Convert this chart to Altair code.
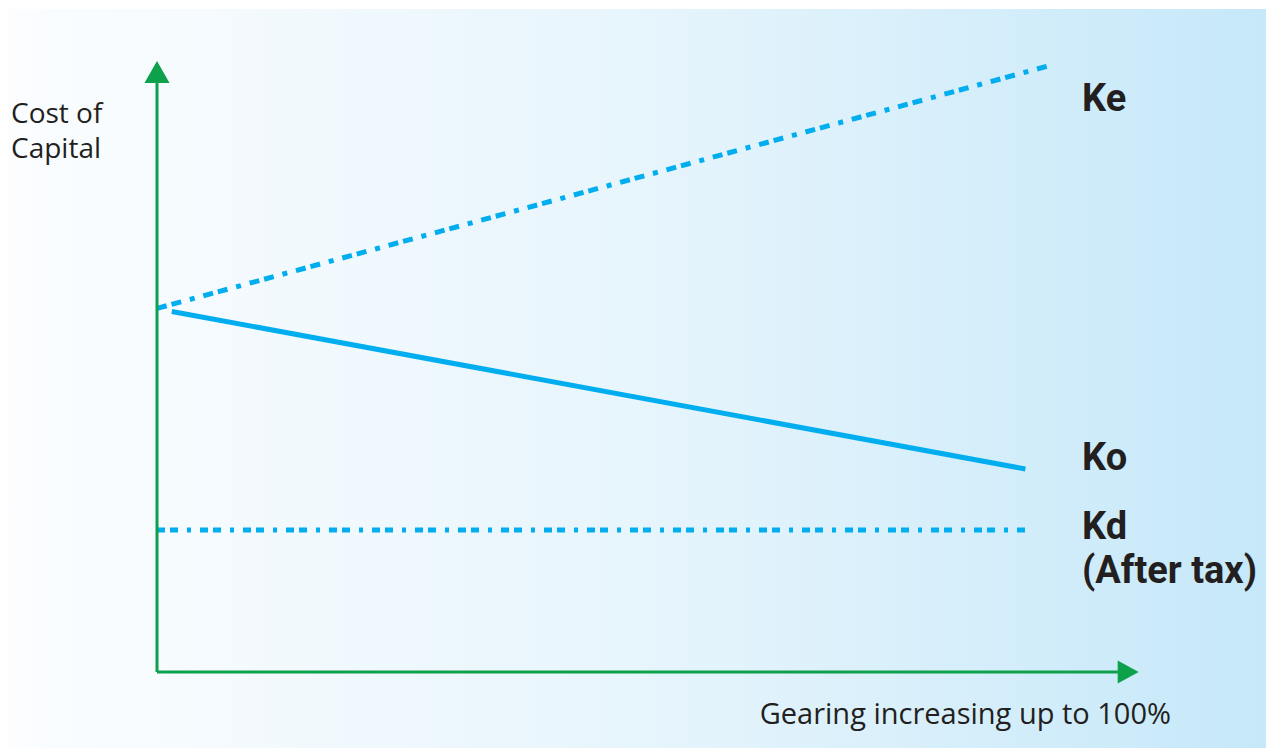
import altair as alt
import pandas as pd

# ---- data ----
series = ["Ke", "Ke", "Ko", "Ko", "Kd", "Kd"]
gearing = [0, 102.3, 1.7, 99.7, 0, 100]
cost = [12.0, 20.0, 11.9, 6.7, 4.69, 4.69]

label_text = ["Ke", "Ko", "Kd", "(After tax)"]
label_gearing = [106.2, 106.2, 106.2, 106.2]
label_cost = [18.5, 6.67, 4.39, 2.94]

axis_x_end = [111.0]
axis_y_end = [19.9]
arrow_x = [0, 111.5]
arrow_y = [19.8, 0]

y_title = ["Cost of", "Capital"]
x_title = ["Gearing increasing up to 100%"]

# ---- styles ----
BLUE = "#00AEEF"
GREEN = "#0DA14B"
INK = "#231F20"

W, H = 1258, 740

xs = alt.Scale(domain=[0, 100], range=[149, 1020])
ys = alt.Scale(domain=[0, 20], range=[664, 58])

lines = pd.DataFrame({"series": series, "gearing": gearing, "cost": cost})

bg = alt.Chart(pd.DataFrame({"a": [0]})).mark_rect(
    fill={
        "gradient": "linear",
        "x1": 0, "x2": 1, "y1": 0, "y2": 0,
        "stops": [
            {"offset": 0, "color": "#FBFDFF"},
            {"offset": 0.5, "color": "#E7F5FC"},
            {"offset": 1, "color": "#C6E8F9"},
        ],
    }
).encode(x=alt.value(0), x2=alt.value(W), y=alt.value(1), y2=alt.value(H))


def line_layer(name, dash=None):
    kw = dict(color=BLUE, strokeWidth=5, strokeCap="butt")
    if dash:
        kw["strokeDash"] = dash
    return alt.Chart(lines).transform_filter(alt.datum.series == name).mark_line(**kw).encode(
        x=alt.X("gearing:Q", scale=xs, axis=None),
        y=alt.Y("cost:Q", scale=ys, axis=None),
    )


ke = line_layer("Ke", [10, 5, 10, 9, 5, 9])
ko = line_layer("Ko")
kd = line_layer("Kd", [8, 5, 8, 9, 4, 9])

yaxis = alt.Chart(pd.DataFrame({"x": [0], "y0": [0], "y1": axis_y_end})).mark_rule(
    color=GREEN, strokeWidth=3
).encode(
    x=alt.X("x:Q", scale=xs, axis=None),
    y=alt.Y("y0:Q", scale=ys, axis=None),
    y2="y1:Q",
)
xaxis = alt.Chart(pd.DataFrame({"y": [0], "x0": [0], "x1": axis_x_end})).mark_rule(
    color=GREEN, strokeWidth=3
).encode(
    y=alt.Y("y:Q", scale=ys, axis=None),
    x=alt.X("x0:Q", scale=xs, axis=None),
    x2="x1:Q",
)

up_arrow = alt.Chart(pd.DataFrame({"x": [arrow_x[0]], "y": [arrow_y[0]]})).mark_point(
    shape="M0,-1L-1.14,1L1.14,1Z", size=484, filled=True, color=GREEN, opacity=1, strokeWidth=0
).encode(x=alt.X("x:Q", scale=xs, axis=None), y=alt.Y("y:Q", scale=ys, axis=None))

right_arrow = alt.Chart(pd.DataFrame({"x": [arrow_x[1]], "y": [arrow_y[1]]})).mark_point(
    shape="M1,0L-1,-1.1L-1,1.1Z", size=441, filled=True, color=GREEN, opacity=1, strokeWidth=0
).encode(x=alt.X("x:Q", scale=xs, axis=None), y=alt.Y("y:Q", scale=ys, axis=None))

labels = alt.Chart(
    pd.DataFrame({"t": label_text, "x": label_gearing, "y": label_cost})
).mark_text(
    font="Roboto", fontWeight="bold", fontSize=38, color=INK, align="left", baseline="alphabetic"
).encode(
    x=alt.X("x:Q", scale=xs, axis=None),
    y=alt.Y("y:Q", scale=ys, axis=None),
    text="t:N",
)

ytitle_top = alt.Chart(pd.DataFrame({"t": [y_title[0]]})).mark_text(
    font="Open Sans", fontSize=28, color=INK, align="left", baseline="alphabetic",
).encode(x=alt.value(3), y=alt.value(115), text="t:N")

ytitle_bottom = alt.Chart(pd.DataFrame({"t": [y_title[1]]})).mark_text(
    font="Open Sans", fontSize=28, color=INK, align="left", baseline="alphabetic",
).encode(x=alt.value(3), y=alt.value(150), text="t:N")

xtitle = alt.Chart(pd.DataFrame({"t": x_title})).mark_text(
    font="Open Sans", fontSize=29, color=INK, align="right", baseline="alphabetic",
).encode(x=alt.value(1163), y=alt.value(716), text="t:N")

chart = alt.layer(
    bg, kd, ko, ke, yaxis, xaxis, up_arrow, right_arrow, labels,
    ytitle_top, ytitle_bottom, xtitle
).properties(
    width=W, height=H, autosize=alt.AutoSizeParams(type="none"), padding=0,
    background="white",
).configure_view(stroke=None)

chart.save("out.html", embed_options={"renderer": "svg", "actions": False})
